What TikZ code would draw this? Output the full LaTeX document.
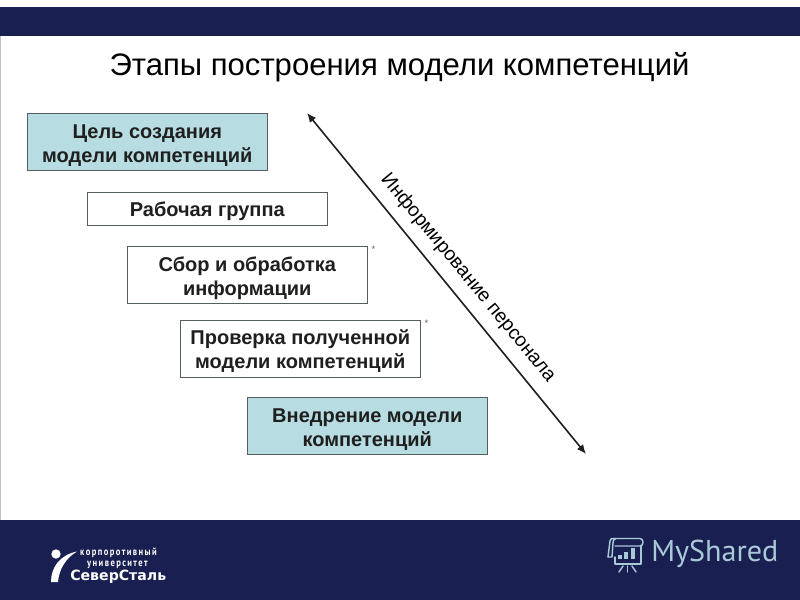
\documentclass[tikz,border=0pt]{standalone}
\usepackage{fontspec}
\usetikzlibrary{arrows.meta}
\setmainfont{Liberation Sans}
\newfontfamily\logofont{PT Sans}
\newfontfamily\heavyfont{DejaVu Sans}
\definecolor{navy}{HTML}{1A1F52}
\definecolor{teal}{HTML}{B7DDE2}
\definecolor{edge}{HTML}{555F60}
\definecolor{icon}{HTML}{A9C9D6}
\newcommand{\gaptop}{\mbox{}\\[-2.5pt]}
\tikzset{
  x=0.75pt,y=-0.75pt,
  stage/.style={draw=edge,line width=0.75pt,inner sep=0pt,align=center,font=\fontsize{15pt}{18pt}\selectfont\bfseries,text=black!88,anchor=north west},
  tealbox/.style={stage,fill=teal},
  whitebox/.style={stage,fill=white},
  band/.style={fill=navy,draw=none},
  star/.style={font=\fontsize{7pt}{7pt}\selectfont,text=black!60,inner sep=0pt},
  iconline/.style={draw=icon,line width=1.1pt,line cap=round,line join=round},
  smalllogo/.style={anchor=west,inner sep=0pt,text=white,xscale=0.8,font=\logofont\bfseries\fontsize{8pt}{9pt}\selectfont},
}
\begin{document}
\begin{tikzpicture}
\useasboundingbox (0,0) rectangle (800,600);
\fill[white] (0,0) rectangle (800,600);
\fill[black!25] (0,36) rectangle (1,520);
\fill[band] (0,7) rectangle (800,36);
\fill[band] (0,520) rectangle (800,600);
\node (title) at (399.5,67) {\fontsize{23.3pt}{28pt}\selectfont Этапы построения модели компетенций};
\node[tealbox,minimum width=180.4pt,minimum height=42.75pt] (goal) at (26.5,113) {\gaptop Цель создания\\модели компетенций};
\node[whitebox,minimum width=180.4pt,minimum height=24.75pt] (group) at (86.5,192) {\rule{0pt}{14.6pt}Рабочая группа};
\node[whitebox,minimum width=180.4pt,minimum height=42.75pt] (collect) at (126.5,246) {\gaptop Сбор и обработка\\информации};
\node[whitebox,minimum width=180.4pt,minimum height=42.75pt] (check) at (179.5,319.5) {\gaptop Проверка полученной\\модели компетенций};
\node[tealbox,minimum width=180.4pt,minimum height=42.75pt] (impl) at (246.5,397) {\gaptop Внедрение модели\\компетенций};
\node[star] (s1) at (373.5,249) {*};
\node[star] (s2) at (426.5,323) {*};
\coordinate (arrA) at (307,113);
\coordinate (arrB) at (586,454);
\draw[{Latex[length=7pt,width=6pt]}-{Latex[length=7pt,width=6pt]},line width=1.2pt,black!88] (arrA) -- (arrB);
\node[rotate=-50.6] (inform) at (468,278) {\fontsize{14.6pt}{18pt}\selectfont Информирование персонала};
% SeverStal logo
\fill[white] (56,554) circle[radius=3.5pt];
\fill[white] (51,582) .. controls (51,567) and (60,555) .. (77,551.5) .. controls (66,558) and (59,569) .. (58,582) -- cycle;
\node[smalllogo] (l1) at (80,553) {к\,о\,р\,п\,о\,р\,о\,т\,и\,в\,н\,ы\,й};
\node[smalllogo] (l2) at (87,565) {у\,н\,и\,в\,е\,р\,с\,и\,т\,е\,т};
\node[anchor=west,inner sep=0pt,text=white] (l3) at (70,577) {\heavyfont\bfseries\fontsize{10.6pt}{13pt}\selectfont СеверСталь};
% MyShared logo
\draw[iconline] (608,557) -- (610,541) .. controls (610,538.5) and (612,538.5) .. (614,538.5) -- (640,538.5) .. controls (644,538.5) and (644,546) .. (640,546) -- (615,546);
\draw[iconline] (608,557) -- (612,557) -- (613,543) .. controls (613,540) and (614,539) .. (616,538.5);
\draw[iconline] (641,546) -- (641,564) -- (615,564) -- (615,557);
\fill[icon] (618,555) rectangle (622,559);
\fill[icon] (624,552) rectangle (628,559);
\fill[icon] (631,548) rectangle (635,559);
\draw[iconline] (623,566) -- (619,572);
\draw[iconline] (627.5,566) -- (627.5,572);
\draw[iconline] (632,566) -- (636,572);
\node[anchor=west,inner sep=0pt,text=icon] (ms) at (651,554) {\logofont\fontsize{22.6pt}{26pt}\selectfont MyShared};
\end{tikzpicture}
\end{document}
